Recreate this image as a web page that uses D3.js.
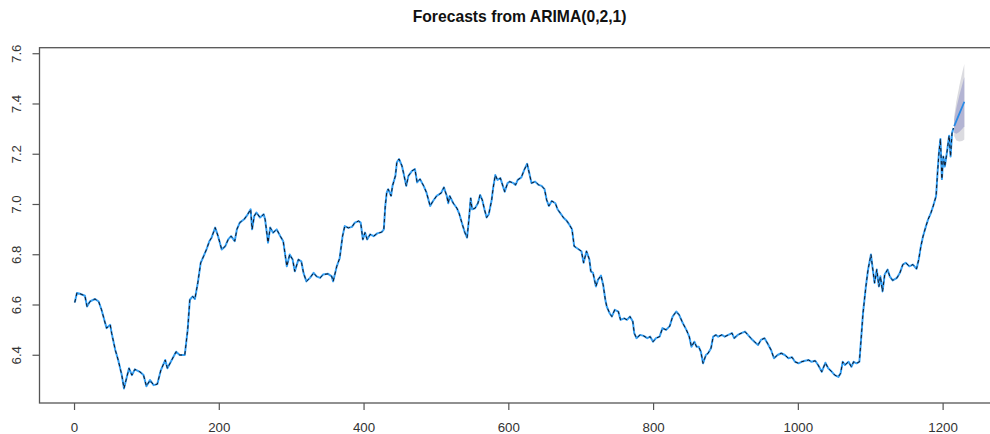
<!DOCTYPE html>
<html>
<head>
<meta charset="utf-8">
<script src="https://cdn.jsdelivr.net/npm/d3@7"></script>
<style>
  html, body { margin: 0; padding: 0; background: #fff; }
  svg { display: block; font-family: "Liberation Sans", Arial, sans-serif; }
</style>
</head>
<body>
<svg id="chart" width="990" height="434"></svg>
<script>
var obsIndex = [1,4,8,15,18,22,29,34,38,43,45,50,52,57,61,66,69,73,76,80,84,91,96,100,105,110,115,120,126,129,135,141,146,153,157,160,164,167,
  171,175,179,183,187,190,195,199,204,209,213,217,222,225,229,235,240,244,246,249,252,257,262,264,268,271,275,280,285,289,292,294,298,302,305,310,314,317,321,326,331,335,340,344,
  351,356,358,363,367,371,374,379,384,388,393,396,399,402,405,409,414,419,425,428,430,432,434,438,440,444,446,449,453,455,459,462,467,471,474,478,483,487,492,496,501,507,511,515,517,519,
  524,529,532,536,540,543,546,548,550,554,558,561,564,567,570,573,577,579,582,585,589,592,595,599,602,607,610,613,618,622,626,629,632,637,642,646,650,653,656,660,665,668,673,676,681,684,688,691,696,
  701,704,708,712,714,717,721,724,728,731,734,736,740,743,747,752,755,760,764,768,772,774,777,782,787,792,796,800,804,809,813,818,823,827,832,836,841,846,850,853,857,860,863,866,869,873,876,880,883,887,890,895,899,
  904,909,912,917,922,927,931,935,940,945,949,954,958,963,967,972,977,982,987,992,996,1001,1005,1010,1015,1019,1024,1028,1033,1038,1042,1047,1051,1056,1059,1062,1065,1070,1074,1077,1081,1085,1088,1090,1094,1097,
  1101,1103,1106,1109,1112,1114,1117,1120,1124,1127,1131,1137,1141,1145,1149,1154,1159,1164,1167,1170,1173,1177,1180,1184,1187,1191,1193,1195,1197,1199,1201,1203,1206,1209,1211,1213,1215];
var obsValue = [6.608,6.646,6.643,6.635,6.592,6.612,6.622,6.612,6.579,6.526,6.506,6.519,6.486,6.419,6.379,6.319,6.266,6.312,6.346,6.319,6.342,6.332,6.319,6.275,6.299,6.279,6.283,6.339,6.379,6.346,6.379,6.412,6.399,6.399,6.499,6.619,6.632,6.622,
  6.686,6.766,6.792,6.819,6.852,6.866,6.906,6.872,6.819,6.832,6.859,6.872,6.852,6.899,6.926,6.939,6.959,6.979,6.899,6.952,6.966,6.946,6.959,6.939,6.846,6.906,6.886,6.899,6.872,6.852,6.792,6.752,6.799,6.779,6.732,6.779,6.772,6.726,6.692,6.706,6.726,6.712,6.706,6.719,
  6.722,6.712,6.692,6.752,6.784,6.872,6.912,6.905,6.909,6.926,6.932,6.926,6.859,6.886,6.859,6.879,6.872,6.883,6.888,6.899,6.992,7.045,7.059,7.032,7.072,7.112,7.166,7.179,7.152,7.126,7.072,7.112,7.132,7.139,7.086,7.099,7.072,7.045,6.992,7.012,7.032,7.043,7.066,7.032,7.003,7.032,
  7.003,6.983,6.963,6.923,6.886,6.866,6.952,7.023,6.979,6.983,7.003,7.036,7.016,6.979,6.946,6.959,7.016,7.063,7.115,7.096,7.103,7.076,7.049,7.083,7.089,7.083,7.076,7.096,7.106,7.136,7.160,7.122,7.083,7.089,7.076,7.072,7.059,7.016,6.992,7.012,7.003,6.979,6.959,6.946,6.932,6.919,6.899,6.832,6.822,
  6.812,6.766,6.812,6.779,6.732,6.726,6.672,6.699,6.715,6.679,6.619,6.592,6.565,6.552,6.579,6.572,6.539,6.545,6.539,6.552,6.532,6.486,6.466,6.479,6.475,6.466,6.472,6.452,6.466,6.472,6.506,6.499,6.514,6.552,6.572,6.559,6.526,6.499,6.472,6.432,6.452,6.432,6.432,6.412,6.366,6.399,6.406,6.426,6.472,6.479,6.472,6.479,6.472,
  6.479,6.486,6.466,6.479,6.486,6.492,6.479,6.466,6.452,6.439,6.459,6.466,6.446,6.419,6.386,6.399,6.406,6.399,6.386,6.390,6.372,6.366,6.372,6.376,6.379,6.372,6.376,6.359,6.332,6.368,6.346,6.332,6.319,6.312,6.326,6.372,6.359,6.372,6.352,6.372,6.366,6.372,6.486,6.565,6.672,6.739,
  6.799,6.752,6.686,6.739,6.672,6.712,6.652,6.719,6.739,6.712,6.696,6.706,6.726,6.759,6.766,6.752,6.759,6.742,6.779,6.832,6.872,6.912,6.939,6.966,6.992,7.032,7.126,7.206,7.259,7.099,7.189,7.149,7.206,7.272,7.189,7.282,7.302];

// forecast horizon (point forecast and 80% / 95% bounds)
var fcIndex = [1216,1219,1223,1227,1230];
var fcMean  = [7.310,7.331,7.359,7.386,7.407];
var fcLo80  = [7.284,7.280,7.287,7.298,7.309];
var fcHi80  = [7.336,7.382,7.431,7.474,7.505];
var fcLo95  = [7.271,7.253,7.249,7.251,7.257];
var fcHi95  = [7.349,7.409,7.469,7.521,7.557];

var xTicks = [0,200,400,600,800,1000,1200];
var yTicks = [6.4,6.6,6.8,7.0,7.2,7.4,7.6];
var chartTitle = "Forecasts from ARIMA(0,2,1)";

var LEFT = 39.5, RIGHT = 999.8, TOP = 47.7, BOTTOM = 403;
var svg = d3.select("#chart");

var x = d3.scaleLinear().domain([-47.7, 1279]).range([LEFT, RIGHT]);
var y = d3.scaleLinear().domain([6.208, 7.622]).range([BOTTOM, TOP]);

svg.append("defs").append("clipPath").attr("id","plotclip")
  .append("rect").attr("x",LEFT).attr("y",TOP).attr("width",RIGHT-LEFT).attr("height",BOTTOM-TOP);

var plot = svg.append("g").attr("clip-path","url(#plotclip)");

var obs = obsIndex.map(function(d,i){ return {t:d, v:obsValue[i]}; });
var fc = fcIndex.map(function(d,i){
  return {t:d, m:fcMean[i], lo80:fcLo80[i], hi80:fcHi80[i], lo95:fcLo95[i], hi95:fcHi95[i]};
});

// interval bands
plot.append("path").datum(fc)
  .attr("d", d3.area().x(function(d){return x(d.t)}).y0(function(d){return y(d.lo95)}).y1(function(d){return y(d.hi95)}))
  .attr("fill","#dbdbe0");
plot.append("path").datum(fc)
  .attr("d", d3.area().x(function(d){return x(d.t)}).y0(function(d){return y(d.lo80)}).y1(function(d){return y(d.hi80)}))
  .attr("fill","#b3b4d3");

var line = d3.line().x(function(d){return x(d.t)}).y(function(d){return y(d.v)});

// observed (blue) with the fitted values traced dashed on top
plot.append("path").datum(obs).attr("d", line)
  .attr("fill","none").attr("stroke","#35a0f5").attr("stroke-width",2)
  .attr("stroke-linejoin","round");
plot.append("path").datum(obs).attr("d", line)
  .attr("fill","none").attr("stroke","#151520").attr("stroke-width",1)
  .attr("stroke-dasharray","3.5,3");

plot.append("path").datum(fc)
  .attr("d", d3.line().x(function(d){return x(d.t)}).y(function(d){return y(d.m)}))
  .attr("fill","none").attr("stroke","#2a8ae6").attr("stroke-width",1.8);

// axes
var xAxis = svg.append("g").attr("transform","translate(0,"+BOTTOM+")")
  .call(d3.axisBottom(x).tickValues(xTicks).tickSize(7).tickFormat(d3.format("d")));
xAxis.select(".domain").remove();
xAxis.selectAll("line").attr("stroke","#555").attr("stroke-width",1.2);
xAxis.selectAll("text").attr("y",29.3).attr("dy",null)
  .attr("fill","#333").style("font-size","13.3px");

var yAxis = svg.append("g").attr("transform","translate("+LEFT+",0)")
  .call(d3.axisLeft(y).tickValues(yTicks).tickSize(7).tickFormat(d3.format(".1f")));
yAxis.select(".domain").remove();
yAxis.selectAll("line").attr("stroke","#555").attr("stroke-width",1.2);
yAxis.selectAll("text")
  .attr("transform","rotate(-90)")
  .attr("x",0).attr("y",-22.8).attr("dy","0.35em")
  .attr("text-anchor","middle")
  .attr("fill","#333").style("font-size","13.3px");

// box
svg.append("rect").attr("x",LEFT).attr("y",TOP).attr("width",RIGHT-LEFT).attr("height",BOTTOM-TOP)
  .attr("fill","none").attr("stroke","#555").attr("stroke-width",1.3);

svg.append("text").attr("x",(LEFT+RIGHT)/2).attr("y",21.5)
  .attr("text-anchor","middle").attr("font-weight","bold")
  .style("font-size","15.7px").attr("fill","#111")
  .text(chartTitle);
</script>
</body>
</html>
